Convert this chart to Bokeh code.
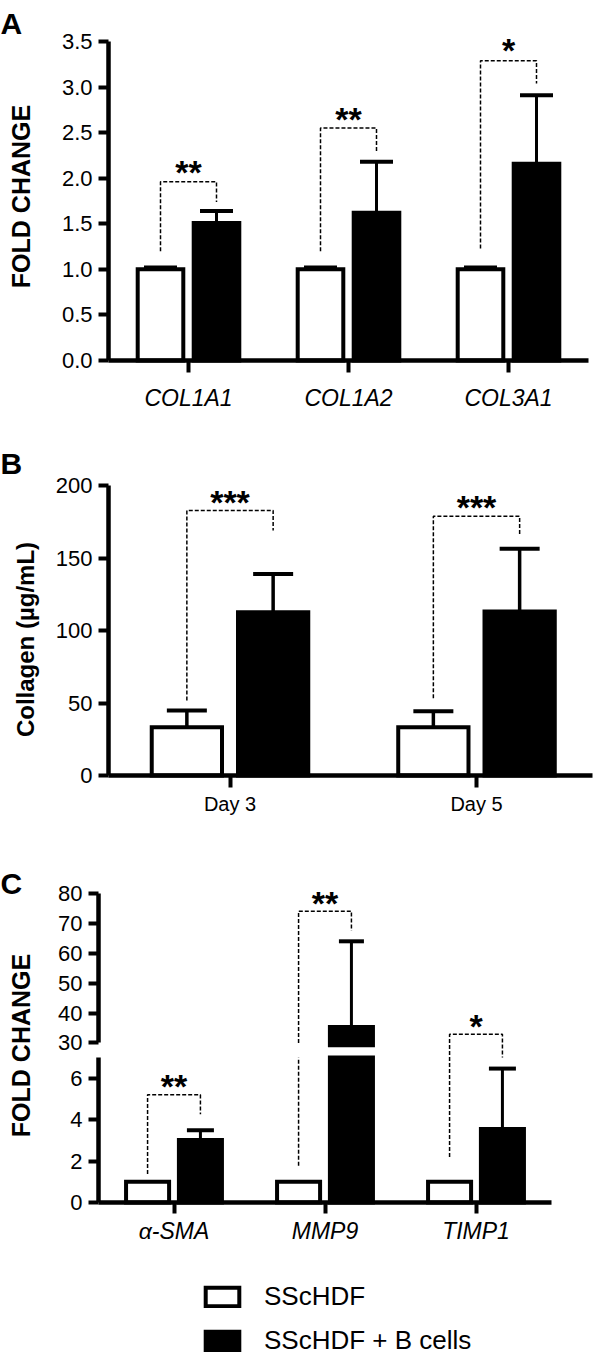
import numpy as np
from bokeh.plotting import figure
from bokeh.models import (Range1d, FixedTicker, LinearAxis, Whisker, TeeHead,
                          ColumnDataSource, Label, Legend, LegendItem, NumeralTickFormatter)
from bokeh.core.properties import value
from bokeh.embed import file_html
from bokeh.resources import INLINE

# ---------------- data ----------------
a_categories = ["COL1A1", "COL1A2", "COL3A1"]
a_ticks = [0.0, 0.5, 1.0, 1.5, 2.0, 2.5, 3.0, 3.5]
a_white = [1.0, 1.0, 1.0]
a_white_err = [0.02, 0.02, 0.02]
a_black = [1.51, 1.62, 2.16]
a_black_err = [0.13, 0.56, 0.75]
a_stars = ["**", "**", "*"]
a_bracket_left = [1.20, 1.20, 1.23]
a_bracket_top = [1.96, 2.55, 3.29]
a_bracket_right = [1.74, 2.28, 3.04]
a_star_y = [2.12, 2.71, 3.46]

b_categories = ["Day 3", "Day 5"]
b_ticks = [0, 50, 100, 150, 200]
b_white = [33.3, 33.3]
b_white_err = [11.5, 11.0]
b_black = [112.6, 113.1]
b_black_err = [26.4, 43.2]
b_stars = ["***", "***"]
b_bracket_left = [51.7, 53.3]
b_bracket_top = [182.8, 178.8]
b_bracket_right = [169.0, 165.5]
b_star_y = [191.8, 188.5]

c_categories = ["α-SMA", "MMP9", "TIMP1"]
c_ticks_low = [0, 2, 4, 6]
c_ticks_high = [30, 40, 50, 60, 70, 80]
c_white = [1.0, 1.0, 1.0]
c_white_err = [0.0, 0.0, 0.0]
c_black = [3.02, 35.35, 3.54]
c_black_err = [0.47, 28.65, 2.92]
c_stars = ["**", "**", "*"]
c_bracket_left = [1.37, 1.77, 2.20]
c_bracket_top = [5.20, 74.1, 8.12]
c_bracket_right = [4.26, 67.5, 7.00]
c_star_y = [5.87, 78.6, 8.77]
c_bracket_scale = ["low", "high", "low"]

legend_labels = ["SScHDF", "SScHDF + B cells"]

# ---------------- layout / style ----------------
W, H = 600, 1354
FONT = "Liberation Sans"
OFF = 0.175
BAR_W = 0.285
C_LOW_MAX = 7
C_HIGH_MIN = 30
C_BREAK_PAD = 0.8
STAR_SIZE = "34px"
STAR_DY = 5


class Scale:
    """Linear map between data values and page pixels for one panel axis."""
    def __init__(self, anchor_val, anchor_px, ppu, vertical):
        self.v, self.px, self.ppu, self.vertical = anchor_val, anchor_px, ppu, vertical

    def rng(self):
        if self.vertical:
            return Range1d(self.v - (H - self.px) / self.ppu, self.v + self.px / self.ppu)
        return Range1d(self.v - self.px / self.ppu, self.v + (W - self.px) / self.ppu)

    def d(self, px):
        if self.vertical:
            return self.v + (self.px - px) / self.ppu
        return self.v + (px - self.px) / self.ppu


ax_A, ay_A = Scale(0, 188, 160, False), Scale(0, 360, 91.14, True)
ax_B, ay_B = Scale(0, 229.5, 246.5, False), Scale(0, 775, 1.45, True)
ax_C = Scale(0, 173.5, 151, False)
ay_CL = Scale(0, 1202, 20.73, True)
ay_CH = Scale(C_HIGH_MIN, 1042.4, 2.988, True)

p = figure(width=W, height=H, x_range=ax_A.rng(), y_range=ay_A.rng(),
           x_axis_location=None, y_axis_location=None,
           output_backend="svg", toolbar_location=None, min_border=0)
p.extra_x_ranges = {"b": ax_B.rng(), "c": ax_C.rng()}
p.extra_y_ranges = {"b": ay_B.rng(), "cl": ay_CL.rng(), "ch": ay_CH.rng()}
p.outline_line_color = None
p.xgrid.visible = False
p.ygrid.visible = False
p.background_fill_color = "white"
p.border_fill_color = "white"


def y_axis(xn, yn, loc, ticks, bounds, fmt=None):
    ax = LinearAxis(x_range_name=xn, y_range_name=yn, fixed_location=loc)
    ax.ticker = FixedTicker(ticks=ticks)
    ax.bounds = bounds
    ax.axis_line_width = 4.5
    ax.axis_line_color = "black"
    ax.major_tick_line_width = 4
    ax.major_tick_line_color = "black"
    ax.major_tick_out = 10
    ax.major_tick_in = 0
    ax.minor_tick_line_color = None
    ax.major_label_text_font = FONT
    ax.major_label_text_font_size = "22px"
    ax.major_label_text_color = "black"
    ax.major_label_standoff = 6
    if fmt:
        ax.formatter = NumeralTickFormatter(format=fmt)
    p.add_layout(ax, "left")


def x_axis(xn, yn, cats, bounds, size, italic, standoff, tick_out):
    ax = LinearAxis(x_range_name=xn, y_range_name=yn, fixed_location=0)
    ax.ticker = FixedTicker(ticks=list(range(len(cats))))
    ax.major_label_overrides = {i: c for i, c in enumerate(cats)}
    ax.bounds = bounds
    ax.axis_line_width = 4.5
    ax.axis_line_color = "black"
    ax.major_tick_line_width = 4
    ax.major_tick_line_color = "black"
    ax.major_tick_out = tick_out
    ax.major_tick_in = 0
    ax.minor_tick_line_color = None
    ax.major_label_text_font = FONT
    ax.major_label_text_font_size = size
    ax.major_label_text_font_style = "italic" if italic else "normal"
    ax.major_label_text_color = "black"
    ax.major_label_standoff = standoff
    p.add_layout(ax, "below")


def add_bars(x, top, bottom, color, xn, yn):
    return p.vbar(x=list(x), top=list(top), bottom=bottom, width=BAR_W,
                  fill_color=color, line_color="black", line_width=4,
                  line_join="miter", x_range_name=xn, y_range_name=yn)


def add_err(x, lo, hi, cap, lw, xn, yn):
    if len(x) == 0:
        return
    src = ColumnDataSource(dict(x=list(x), lower=list(lo), upper=list(hi)))
    w = Whisker(source=src, base="x", lower="lower", upper="upper",
                dimension="height", line_color="black", line_width=lw,
                upper_head=TeeHead(size=cap, line_width=4, line_color="black"),
                lower_head=None, x_range_name=xn, y_range_name=yn, level="overlay")
    p.add_layout(w)


def add_brackets(xs, ys, xn, yn):
    if xs:
        p.multi_line(xs=xs, ys=ys, line_color="black", line_width=1.5,
                     line_dash="4 2", x_range_name=xn, y_range_name=yn)


def add_stars(x, y, txt, xn, yn):
    if len(x):
        p.text(x=list(x), y=list(y), text=list(txt), text_font=value(FONT),
               text_font_style="bold", text_font_size=STAR_SIZE,
               text_align="center", text_baseline="alphabetic",
               text_color="black", y_offset=STAR_DY,
               x_range_name=xn, y_range_name=yn)


def add_label(sx, sy, px, py, text, size, xn, yn, angle=0.0, align="left",
              baseline="middle"):
    p.add_layout(Label(x=sx.d(px), y=sy.d(py), text=text, text_font=FONT,
                       text_font_size=size, text_font_style="bold",
                       text_color="black", angle=angle, text_align=align,
                       text_baseline=baseline, x_range_name=xn, y_range_name=yn))


# ---------------- panel A ----------------
ia = np.arange(len(a_categories))
A = ("default", "default")
add_bars(ia - OFF, a_white, 0, "white", *A)
add_bars(ia + OFF, a_black, 0, "black", *A)
add_err(np.concatenate([ia - OFF, ia + OFF]),
        np.concatenate([a_white, a_black]),
        np.concatenate([np.add(a_white, a_white_err), np.add(a_black, a_black_err)]),
        33, 3, *A)
add_brackets([[i - OFF, i - OFF, i + OFF, i + OFF] for i in ia],
             [[l, t, t, r] for l, t, r in zip(a_bracket_left, a_bracket_top, a_bracket_right)], *A)
add_stars(ia, a_star_y, a_stars, *A)
y_axis("default", "default", -0.5, a_ticks, (0, 3.5), "0.0")
x_axis("default", "default", a_categories, (-0.5, 2.5), "23px", True, 12, 12)
add_label(ax_A, ay_A, 0, 22.5, "A", "30px", *A)
add_label(ax_A, ay_A, 20, 196, "FOLD CHANGE", "25px", *A, angle=np.pi / 2,
          align="center")

# ---------------- panel B ----------------
ib = np.arange(len(b_categories))
B = ("b", "b")
add_bars(ib - OFF, b_white, 0, "white", *B)
add_bars(ib + OFF, b_black, 0, "black", *B)
add_err(np.concatenate([ib - OFF, ib + OFF]),
        np.concatenate([b_white, b_black]),
        np.concatenate([np.add(b_white, b_white_err), np.add(b_black, b_black_err)]),
        40, 3.5, *B)
add_brackets([[i - OFF, i - OFF, i + OFF, i + OFF] for i in ib],
             [[l, t, t, r] for l, t, r in zip(b_bracket_left, b_bracket_top, b_bracket_right)], *B)
add_stars(ib, b_star_y, b_stars, *B)
y_axis("b", "b", ax_B.d(108), b_ticks, (0, 200))
x_axis("b", "b", b_categories, (ax_B.d(108), ax_B.d(592)), "20px", False, 5, 12)
add_label(ax_B, ay_B, 0, 463, "B", "30px", *B)
add_label(ax_B, ay_B, 25, 639, "Collagen (µg/mL)", "24px", *B, angle=np.pi / 2,
          align="center")

# ---------------- panel C (broken axis) ----------------
ic = np.arange(len(c_categories))
CL = ("c", "cl")
CH = ("c", "ch")
cw = np.array(c_white)
cb = np.array(c_black)
rw = add_bars(ic - OFF, np.minimum(cw, C_LOW_MAX), 0, "white", *CL)
rb = add_bars(ic + OFF, np.minimum(cb, C_LOW_MAX), 0, "black", *CL)
hi_mask = cb > C_HIGH_MIN
add_bars((ic + OFF)[hi_mask], cb[hi_mask], C_HIGH_MIN - C_BREAK_PAD, "black", *CH)

xs_all = np.concatenate([ic - OFF, ic + OFF])
v_all = np.concatenate([cw, cb])
e_all = np.concatenate([c_white_err, c_black_err])
m_low = (e_all > 0) & (v_all <= C_LOW_MAX)
m_high = (e_all > 0) & (v_all > C_HIGH_MIN)
add_err(xs_all[m_low], v_all[m_low], (v_all + e_all)[m_low], 27, 3, *CL)
add_err(xs_all[m_high], v_all[m_high], (v_all + e_all)[m_high], 25, 3, *CH)

lx, ly, hx, hy = [], [], [], []
slx, sly, slt, shx, shy, sht = [], [], [], [], [], []
for i, sc in enumerate(c_bracket_scale):
    xw, xb = i - OFF, i + OFF
    l, t, r = c_bracket_left[i], c_bracket_top[i], c_bracket_right[i]
    if sc == "low":
        lx.append([xw, xw, xb, xb]); ly.append([l, t, t, r])
        slx.append(i); sly.append(c_star_y[i]); slt.append(c_stars[i])
    else:
        lx.append([xw, xw]); ly.append([l, C_LOW_MAX])
        hx.append([xw, xw, xb, xb]); hy.append([C_HIGH_MIN, t, t, r])
        shx.append(i); shy.append(c_star_y[i]); sht.append(c_stars[i])
add_brackets(lx, ly, *CL)
add_brackets(hx, hy, *CH)
add_stars(slx, sly, slt, *CL)
add_stars(shx, shy, sht, *CH)

y_axis("c", "cl", -0.5, c_ticks_low, (0, C_LOW_MAX))
y_axis("c", "ch", -0.5, c_ticks_high, (C_HIGH_MIN, 80))
x_axis("c", "cl", c_categories, (-0.5, 2.5), "23px", True, 4, 11)
add_label(ax_C, ay_CL, 0, 882.5, "C", "30px", *CL)
add_label(ax_C, ay_CL, 20, 1045, "FOLD CHANGE", "25px", *CL, angle=np.pi / 2,
          align="center")

legend = Legend(items=[LegendItem(label=legend_labels[0], renderers=[rw]),
                       LegendItem(label=legend_labels[1], renderers=[rb])],
                location=(201, -2), glyph_width=42, glyph_height=23,
                label_text_font=FONT, label_text_font_size="26px",
                label_text_color="black", label_standoff=21, label_height=28,
                spacing=13, padding=0, margin=0, border_line_color=None,
                background_fill_alpha=0)
p.add_layout(legend)

open("out.html", "w").write(file_html(p, INLINE))
